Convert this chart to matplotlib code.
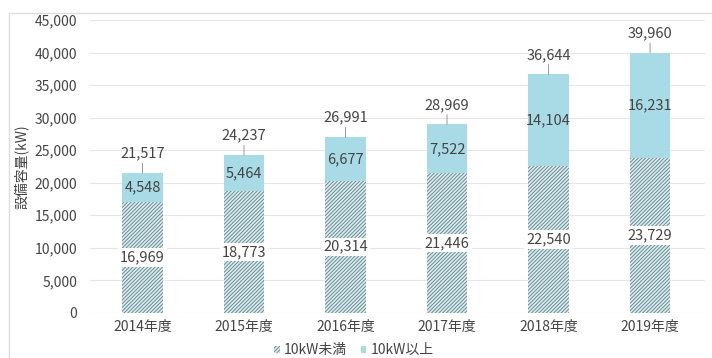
import matplotlib.pyplot as plt
from matplotlib.patches import Rectangle, Patch
from matplotlib.ticker import FuncFormatter
import numpy as np

plt.rcParams['font.family'] = ['Noto Sans CJK JP', 'DejaVu Sans']
plt.rcParams['hatch.linewidth'] = 0.7

years = ['2014年度', '2015年度', '2016年度', '2017年度', '2018年度', '2019年度']
under10 = [16969, 18773, 20314, 21446, 22540, 23729]
over10 = [4548, 5464, 6677, 7522, 14104, 16231]
totals = [21517, 24237, 26991, 28969, 36644, 39960]

fig = plt.figure(figsize=(7.12, 3.58), dpi=100)
ax = fig.add_axes([0.126, 0.126, 0.864, 0.818])

# outer frame of the picture
fig.patches.append(Rectangle((0.013, -0.01), 1.0, 0.974, transform=fig.transFigure,
                             fill=False, edgecolor='#dddddd', linewidth=1.0))

x = np.arange(len(years))
w = 0.4
txt = '#444444'
blue = '#a9dbe7'
hatch = '/' * 9

ax.bar(x, under10, w, facecolor='#dcecef', edgecolor='#6a8c94', hatch=hatch,
       linewidth=0, zorder=2)
ax.bar(x, over10, w, bottom=under10, facecolor=blue, linewidth=0, zorder=2)

box = dict(boxstyle='square,pad=0.15', facecolor='white', edgecolor='none')
for i in range(len(years)):
    ax.text(x[i], under10[i] / 2, f'{under10[i]:,}', ha='center', va='center',
            fontsize=10.5, color=txt, bbox=box, zorder=4)
    ax.text(x[i], under10[i] + over10[i] / 2, f'{over10[i]:,}', ha='center',
            va='center', fontsize=10.5, color=txt, zorder=4)
    ax.annotate(f'{totals[i]:,}', xy=(x[i], totals[i]), xytext=(0, 9),
                textcoords='offset points', ha='center', va='bottom', fontsize=10.5,
                color=txt, zorder=4,
                arrowprops=dict(arrowstyle='-', color='#999999', lw=0.7,
                                shrinkA=0, shrinkB=0))

ax.set_xlim(-0.52, 5.54)
ax.set_ylim(0, 45000)
ax.set_yticks(np.arange(0, 45001, 5000))
ax.yaxis.set_major_formatter(FuncFormatter(lambda v, p: f'{int(v):,}'))
ax.set_xticks(x)
ax.set_xticklabels(years)
ax.tick_params(axis='both', length=0, labelsize=10, colors=txt)
ax.tick_params(axis='y', pad=9)
ax.tick_params(axis='x', pad=5)
ax.grid(axis='y', color='#e6e6e6', linewidth=0.8, zorder=0)
for s in ax.spines.values():
    s.set_visible(False)

ax.set_ylabel('設備容量(kW)', fontsize=10, color=txt, labelpad=4)

handles = [Patch(facecolor='#dcecef', edgecolor='#6a8c94', hatch=hatch, linewidth=0),
           Patch(facecolor=blue, linewidth=0)]
fig.legend(handles, ['10kW未満', '10kW以上'], loc='center', bbox_to_anchor=(0.497, 0.022),
           ncol=2, frameon=False, fontsize=10, handlelength=0.4, handleheight=0.4,
           handletextpad=0.3, columnspacing=1.0, labelcolor=txt)

fig.savefig('out.png', dpi=100, facecolor='white')
